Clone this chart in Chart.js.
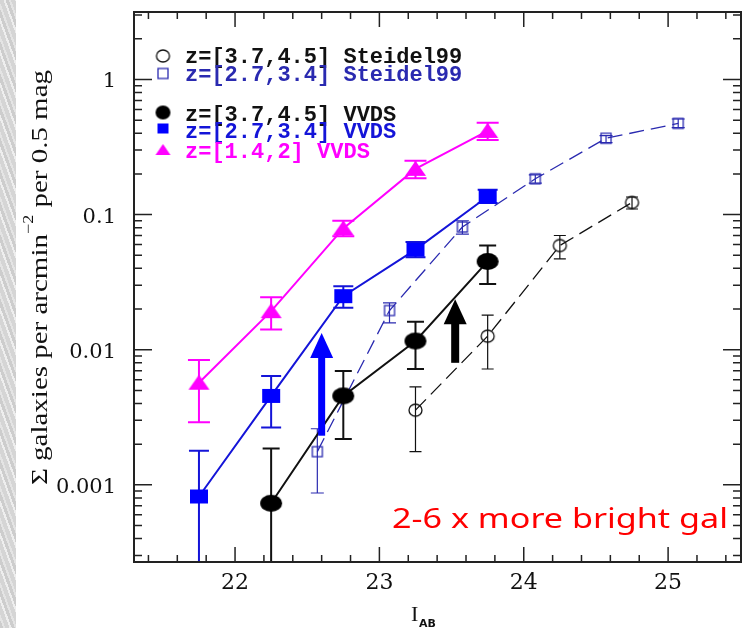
<!DOCTYPE html>
<html>
<head>
<meta charset="utf-8">
<script src="https://cdn.jsdelivr.net/npm/chart.js@4.4.1/dist/chart.umd.min.js"></script>
<style>
    html, body { margin: 0; background: #fff; }
    #wrap { position: relative; width: 753px; height: 628px; overflow: hidden; }
    #strip {
        position: absolute; left: 0; top: 0; width: 16px; height: 628px;
        background: repeating-linear-gradient(70deg, #cdcdcd 0 3px, #e4e4e4 3px 5px, #d5d5d5 5px 9px, #eeeeee 9px 11px);
    }
    canvas { position: absolute; left: 0; top: 0; }
</style>
</head>
<body>
<div id="wrap">
    <div id="strip"></div>
    <canvas id="lfChart" width="753" height="628"></canvas>
</div>
<script>
// axis ticks
const xTicks = [22, 23, 24, 25];
const yTicks = [0.001, 0.01, 0.1, 1];
const yTickLabels = ['0.001', '0.01', '0.1', '1'];

// VVDS z=[1.4,2]
const magX = [21.75, 22.25, 22.75, 23.25, 23.75];
const magY = [0.0057, 0.0193, 0.079, 0.218, 0.416];
const magLo = [0.0029, 0.0141, 0.069, 0.186, 0.357];
const magHi = [0.0084, 0.0245, 0.090, 0.250, 0.479];

// VVDS z=[2.7,3.4]
const blueX = [21.75, 22.25, 22.75, 23.25, 23.75];
const blueY = [0.00082, 0.00455, 0.0249, 0.055, 0.136];
const blueLo = [0.0001, 0.00266, 0.0204, 0.0483, 0.1216];
const blueHi = [0.00179, 0.0064, 0.0295, 0.0627, 0.153];

// VVDS z=[3.7,4.5]
const blackX = [22.25, 22.75, 23.25, 23.75];
const blackY = [0.00073, 0.00455, 0.0116, 0.045];
const blackLo = [0.0001, 0.00218, 0.0072, 0.0307];
const blackHi = [0.00186, 0.00697, 0.0161, 0.059];

// Steidel99 z=[2.7,3.4]
const stBlueX = [22.57, 23.07, 23.575, 24.08, 24.57, 25.07];
const stBlueY = [0.00176, 0.0195, 0.081, 0.184, 0.367, 0.473];
const stBlueLo = [0.00087, 0.0158, 0.0718, 0.171, 0.341, 0.44];
const stBlueHi = [0.0026, 0.0222, 0.090, 0.197, 0.384, 0.51];

// Steidel99 z=[3.7,4.5]
const stBlackX = [23.25, 23.75, 24.25, 24.75];
const stBlackY = [0.00357, 0.0126, 0.059, 0.123];
const stBlackLo = [0.00176, 0.0072, 0.047, 0.110];
const stBlackHi = [0.0053, 0.018, 0.070, 0.135];

// arrows (x, from, to)
const arrowX = [22.6, 23.525];
const arrowFrom = [0.00231, 0.0080];
const arrowTo = [0.0133, 0.0236];

const legendLabels = [
    'z=[3.7,4.5] Steidel99',
    'z=[2.7,3.4] Steidel99',
    'z=[3.7,4.5] VVDS',
    'z=[2.7,3.4] VVDS',
    'z=[1.4,2] VVDS'
];

const MAGENTA = '#ff00ff';
const BLUE = '#0000ff';
const BLUE_LINE = '#1414d8';
const ST_BLUE = '#2a2ab0';

// marker images
function marker(w, h, draw) {
    const c = document.createElement('canvas');
    c.width = w + 4;
    c.height = h + 4;
    const g = c.getContext('2d');
    g.translate(c.width / 2, c.height / 2);
    draw(g, w, h);
    return c;
}
function ellipse(w, h, fill, stroke) {
    return marker(w, h, (g) => {
        g.beginPath();
        g.ellipse(0, 0, w / 2, h / 2, 0, 0, Math.PI * 2);
        if (fill) { g.fillStyle = fill; g.fill(); }
        if (stroke) { g.strokeStyle = stroke; g.lineWidth = 1.3; g.stroke(); }
    });
}
function rect(w, h, fill, stroke) {
    return marker(w, h, (g) => {
        if (fill) { g.fillStyle = fill; g.fillRect(-w / 2, -h / 2, w, h); }
        if (stroke) { g.strokeStyle = stroke; g.lineWidth = 1.3; g.strokeRect(-w / 2, -h / 2, w, h); }
    });
}
function triangle(w, h, fill) {
    return marker(w, h, (g) => {
        g.beginPath();
        g.moveTo(0, -h / 2 - 1);
        g.lineTo(w / 2, h / 2);
        g.lineTo(-w / 2, h / 2);
        g.closePath();
        g.fillStyle = fill;
        g.fill();
    });
}

const series = [
    { x: magX, y: magY, lo: magLo, hi: magHi, color: MAGENTA, line: MAGENTA, cap: 22, lw: 2, dash: [],
      point: triangle(21, 14, MAGENTA) },
    { x: blueX, y: blueY, lo: blueLo, hi: blueHi, color: BLUE_LINE, line: BLUE_LINE, cap: 20, lw: 2, dash: [],
      point: rect(18, 14, BLUE) },
    { x: blackX, y: blackY, lo: blackLo, hi: blackHi, color: '#111', line: '#111', cap: 17, lw: 2, dash: [],
      point: ellipse(22, 17, '#000') },
    { x: stBlueX, y: stBlueY, lo: stBlueLo, hi: stBlueHi, color: ST_BLUE, line: ST_BLUE, cap: 13, lw: 1.2, dash: [15, 7],
      point: rect(10, 10, null, ST_BLUE) },
    { x: stBlackX, y: stBlackY, lo: stBlackLo, hi: stBlackHi, color: '#111', line: '#111', cap: 12, lw: 1.2, dash: [15, 7],
      point: ellipse(13, 12, null, '#111') }
];

const datasets = series.map((s) => ({
    data: s.x.map((x, i) => ({ x: x, y: s.y[i] })),
    borderColor: s.line,
    borderWidth: s.lw === 2 ? 2 : 1.3,
    borderDash: s.dash,
    pointStyle: s.point,
    pointRadius: 10,
    tension: 0,
    fill: false
}));

const pgplot = {
    id: 'pgplot',
    beforeDatasetsDraw(chart) {
        const ctx = chart.ctx;
        const a = chart.chartArea;
        const xs = chart.scales.x, ys = chart.scales.y;
        ctx.save();
        ctx.beginPath();
        ctx.rect(a.left, a.top, a.right - a.left, a.bottom - a.top);
        ctx.clip();
        series.forEach((s) => {
            ctx.strokeStyle = s.color;
            ctx.lineWidth = s.lw;
            s.x.forEach((x, i) => {
                const px = xs.getPixelForValue(x);
                const y0 = ys.getPixelForValue(s.lo[i]);
                const y1 = ys.getPixelForValue(s.hi[i]);
                ctx.beginPath();
                ctx.moveTo(px, y0); ctx.lineTo(px, y1);
                ctx.moveTo(px - s.cap / 2, y0); ctx.lineTo(px + s.cap / 2, y0);
                ctx.moveTo(px - s.cap / 2, y1); ctx.lineTo(px + s.cap / 2, y1);
                ctx.stroke();
            });
        });
        ctx.restore();
    },
    afterDatasetsDraw(chart) {
        const ctx = chart.ctx;
        const a = chart.chartArea;
        const xs = chart.scales.x, ys = chart.scales.y;
        ctx.save();

        // arrows
        const arrowColor = [BLUE, '#000'];
        const shaftW = [7, 8];
        arrowX.forEach((x, i) => {
            const px = xs.getPixelForValue(x);
            const yb = ys.getPixelForValue(arrowFrom[i]);
            const yt = ys.getPixelForValue(arrowTo[i]);
            const headBase = yt + 25;
            ctx.fillStyle = arrowColor[i];
            ctx.fillRect(px - shaftW[i] / 2, headBase - 1, shaftW[i], yb - headBase + 1);
            ctx.beginPath();
            ctx.moveTo(px, yt);
            ctx.lineTo(px + 11.5, headBase);
            ctx.lineTo(px - 11.5, headBase);
            ctx.closePath();
            ctx.fill();
        });

        // frame
        ctx.strokeStyle = '#222';
        ctx.lineWidth = 2;
        ctx.strokeRect(a.left, a.top, a.right - a.left, a.bottom - a.top);

        // x ticks, every 0.2, inward on bottom and top
        ctx.lineWidth = 1.5;
        ctx.beginPath();
        for (let k = 107; k <= 127; k++) {
            const v = k / 5;
            const px = xs.getPixelForValue(v);
            if (px <= a.left + 1 || px >= a.right - 1) continue;
            const len = (k % 5 === 0) ? 15 : 7;
            ctx.moveTo(px, a.bottom); ctx.lineTo(px, a.bottom - len);
            ctx.moveTo(px, a.top); ctx.lineTo(px, a.top + len);
        }
        // y ticks, decades and 2..9 minors, inward on left and right
        for (let e = -4; e <= 0; e++) {
            for (let m = 1; m <= 9; m++) {
                const v = m * Math.pow(10, e);
                const py = ys.getPixelForValue(v);
                if (py <= a.top + 1 || py >= a.bottom - 1) continue;
                const len = (m === 1) ? 18 : 8;
                ctx.moveTo(a.left, py); ctx.lineTo(a.left + len, py);
                ctx.moveTo(a.right, py); ctx.lineTo(a.right - len, py);
            }
        }
        ctx.stroke();

        // tick labels
        ctx.fillStyle = '#111';
        ctx.font = '22px "DejaVu Serif"';
        ctx.textBaseline = 'alphabetic';
        ctx.textAlign = 'center';
        xTicks.forEach((v) => {
            ctx.fillText(String(v), xs.getPixelForValue(v), a.bottom + 27);
        });
        ctx.font = '21px "DejaVu Serif"';
        ctx.textAlign = 'right';
        yTicks.forEach((v, i) => {
            ctx.fillText(yTickLabels[i], a.left - 18, ys.getPixelForValue(v) + 8);
        });

        // x title: I_AB
        ctx.textAlign = 'left';
        ctx.font = '22px "Liberation Serif"';
        ctx.fillText('I', 411, 621);
        ctx.font = 'bold 11px "DejaVu Sans"';
        ctx.fillText('AB', 419, 627);

        // y title
        ctx.save();
        ctx.translate(47, 485);
        ctx.rotate(-Math.PI / 2);
        const parts = [
            { t: 'Σ galaxies per arcmin', f: '24px "Liberation Serif"', dy: 0 },
            { t: '−2', f: '15px "Liberation Serif"', dy: -14 },
            { t: ' per 0.5 mag', f: '24px "Liberation Serif"', dy: 0 }
        ];
        let total = 0;
        parts.forEach((p) => { ctx.font = p.f; total += ctx.measureText(p.t).width; });
        ctx.scale(415 / total, 1);
        let cx = 0;
        parts.forEach((p) => {
            ctx.font = p.f;
            ctx.fillText(p.t, cx, p.dy);
            cx += ctx.measureText(p.t).width;
        });
        ctx.restore();

        // legend
        const legColors = ['#111', ST_BLUE, '#111', BLUE_LINE, MAGENTA];
        const legBase = [62.5, 80.5, 120.5, 137.5, 158];
        const legMarks = [
            ellipse(13, 12, null, '#111'),
            rect(10, 10, null, ST_BLUE),
            ellipse(15, 14, '#000'),
            rect(11, 10, BLUE),
            triangle(15, 10, MAGENTA)
        ];
        const legMarkY = [56, 73.5, 112.5, 128.5, 150];
        ctx.font = 'bold 22px "Liberation Mono"';
        legendLabels.forEach((t, i) => {
            const m = legMarks[i];
            ctx.drawImage(m, 163 - m.width / 2, legMarkY[i] - m.height / 2);
            ctx.fillStyle = legColors[i];
            ctx.fillText(t, 185, legBase[i]);
        });

        // annotation
        ctx.save();
        ctx.fillStyle = '#ff0000';
        ctx.font = '28px "Noto Sans"';
        const note = '2-6 x more bright gal';
        const w = ctx.measureText(note).width;
        ctx.translate(392, 528);
        ctx.scale(336 / w, 1);
        ctx.fillText(note, 0, 0);
        ctx.restore();

        ctx.restore();
    }
};

new Chart(document.getElementById('lfChart').getContext('2d'), {
    type: 'line',
    data: { datasets: datasets },
    options: {
        responsive: false,
        animation: false,
        devicePixelRatio: 1,
        layout: { padding: { left: 134, top: 10, right: 3, bottom: 66 } },
        scales: {
            x: { type: 'linear', min: 21.3, max: 25.505, display: false },
            y: { type: 'logarithmic', min: 2.685e-4, max: 3.157, display: false }
        },
        plugins: { legend: { display: false }, tooltip: { enabled: false } }
    },
    plugins: [pgplot]
});
</script>
</body>
</html>
